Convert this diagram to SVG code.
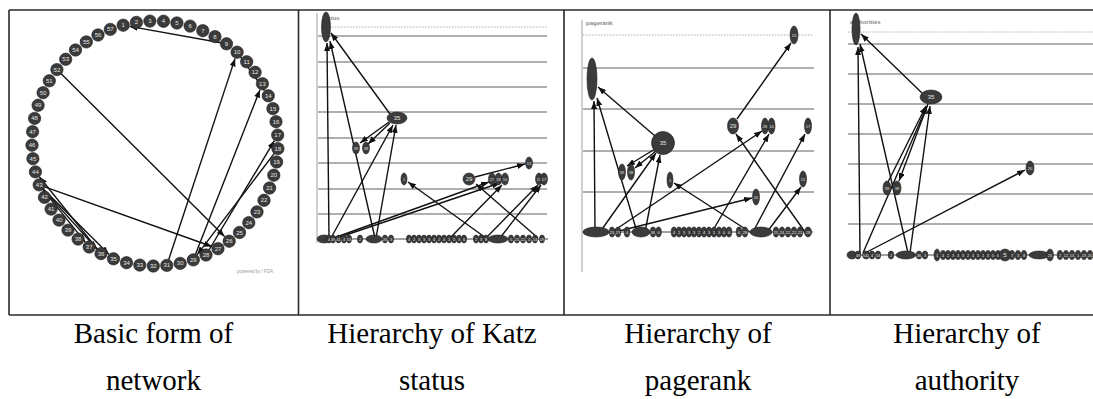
<svg xmlns="http://www.w3.org/2000/svg" width="1093" height="399" viewBox="0 0 1093 399">
<defs>
<marker id="ah" viewBox="0 0 8 6" refX="8" refY="3" markerWidth="8" markerHeight="6" markerUnits="userSpaceOnUse" orient="auto"><path d="M0,0 L8,3 L0,6 z" fill="#111"/></marker>
</defs>
<style>
.b{stroke:#2a2a2a;stroke-width:1.6;fill:none}
.g{stroke:#959595;stroke-width:1.3}
.d{stroke:#aaa;stroke-width:1;stroke-dasharray:1.5 1.5}
.ax{stroke:#b0b0b0;stroke-width:1.2}
.e{stroke:#111;stroke-width:1.4;fill:none;marker-end:url(#ah)}
.n{fill:#3b3b3b;stroke:#1e1e1e;stroke-width:0.6}
.t{font-family:"Liberation Sans",Arial,sans-serif;font-size:6px;fill:#e6e6e6;text-anchor:middle;dominant-baseline:central}
.s{font-family:"Liberation Sans",Arial,sans-serif;font-size:4px;fill:#e6e6e6;text-anchor:middle;dominant-baseline:central}
.row{stroke:#444;stroke-width:1}
.lab{font-family:"Liberation Sans",Arial,sans-serif;font-size:6px;fill:#8a8a8a;font-weight:bold}
.cap{font-family:"Liberation Serif","Times New Roman",serif;font-size:29px;fill:#000;text-anchor:middle}
</style>
<rect width="1093" height="399" fill="#fff"/>

<g id="table">
<line class="b" x1="9" y1="10" x2="1093" y2="10"/>
<line class="b" x1="9" y1="315" x2="1093" y2="315"/>
<line class="b" x1="9" y1="10" x2="9" y2="315"/>
<line class="b" x1="298.5" y1="10" x2="298.5" y2="315"/>
<line class="b" x1="564" y1="10" x2="564" y2="315"/>
<line class="b" x1="830" y1="10" x2="830" y2="315"/>
</g>

<!-- Panel 1 -->
<g id="p1-edges">
<line class="e" x1="226.5" y1="43.8" x2="129.6" y2="26.4"/>
<line class="e" x1="237.1" y1="52.2" x2="264.5" y2="90.5"/>
<line class="e" x1="166.8" y1="265.4" x2="235.1" y2="58.4"/>
<line class="e" x1="193.3" y1="259.9" x2="260.0" y2="89.7"/>
<line class="e" x1="56.9" y1="69.6" x2="224.6" y2="236.6"/>
<line class="e" x1="39.2" y1="184.9" x2="211.9" y2="246.5"/>
<line class="e" x1="277.9" y1="148.6" x2="197.2" y2="254.7"/>
<line class="e" x1="206.0" y1="255.0" x2="274.4" y2="140.7"/>
<line class="e" x1="101.0" y1="253.6" x2="39.5" y2="177.0"/>
<line class="e" x1="39.2" y1="184.9" x2="96.7" y2="248.8"/>
<line class="e" x1="39.2" y1="184.9" x2="85.1" y2="241.9"/>
<line class="e" x1="39.2" y1="184.9" x2="108.9" y2="254.2"/>
</g>
<g id="p1-nodes">
<g id="a1"><circle class="n" cx="123.2" cy="25.2" r="6.2"/><text class="t" x="123.2" y="25.2">1</text></g>
<g id="a2"><circle class="n" cx="136.4" cy="22.4" r="6.2"/><text class="t" x="136.4" y="22.4">2</text></g>
<g id="a3"><circle class="n" cx="149.9" cy="21.1" r="6.2"/><text class="t" x="149.9" y="21.1">3</text></g>
<g id="a4"><circle class="n" cx="163.5" cy="21.3" r="6.2"/><text class="t" x="163.5" y="21.3">4</text></g>
<g id="a5"><circle class="n" cx="176.9" cy="23.0" r="6.2"/><text class="t" x="176.9" y="23.0">5</text></g>
<g id="a6"><circle class="n" cx="190.1" cy="26.1" r="6.2"/><text class="t" x="190.1" y="26.1">6</text></g>
<g id="a7"><circle class="n" cx="202.8" cy="30.7" r="6.2"/><text class="t" x="202.8" y="30.7">7</text></g>
<g id="a8"><circle class="n" cx="215.0" cy="36.6" r="6.2"/><text class="t" x="215.0" y="36.6">8</text></g>
<g id="a9"><circle class="n" cx="226.5" cy="43.8" r="6.2"/><text class="t" x="226.5" y="43.8">9</text></g>
<g id="a10"><circle class="n" cx="237.1" cy="52.2" r="6.2"/><text class="t" x="237.1" y="52.2">10</text></g>
<g id="a11"><circle class="n" cx="246.7" cy="61.8" r="6.2"/><text class="t" x="246.7" y="61.8">11</text></g>
<g id="a12"><circle class="n" cx="255.1" cy="72.3" r="6.2"/><text class="t" x="255.1" y="72.3">12</text></g>
<g id="a13"><circle class="n" cx="262.4" cy="83.7" r="6.2"/><text class="t" x="262.4" y="83.7">13</text></g>
<g id="a14"><circle class="n" cx="268.3" cy="95.8" r="6.2"/><text class="t" x="268.3" y="95.8">14</text></g>
<g id="a15"><circle class="n" cx="272.9" cy="108.6" r="6.2"/><text class="t" x="272.9" y="108.6">15</text></g>
<g id="a16"><circle class="n" cx="276.0" cy="121.7" r="6.2"/><text class="t" x="276.0" y="121.7">16</text></g>
<g id="a17"><circle class="n" cx="277.7" cy="135.1" r="6.2"/><text class="t" x="277.7" y="135.1">17</text></g>
<g id="a18"><circle class="n" cx="277.9" cy="148.6" r="6.2"/><text class="t" x="277.9" y="148.6">18</text></g>
<g id="a19"><circle class="n" cx="276.6" cy="162.0" r="6.2"/><text class="t" x="276.6" y="162.0">19</text></g>
<g id="a20"><circle class="n" cx="273.8" cy="175.2" r="6.2"/><text class="t" x="273.8" y="175.2">20</text></g>
<g id="a21"><circle class="n" cx="269.6" cy="188.0" r="6.2"/><text class="t" x="269.6" y="188.0">21</text></g>
<g id="a22"><circle class="n" cx="264.0" cy="200.3" r="6.2"/><text class="t" x="264.0" y="200.3">22</text></g>
<g id="a23"><circle class="n" cx="257.0" cy="211.9" r="6.2"/><text class="t" x="257.0" y="211.9">23</text></g>
<g id="a24"><circle class="n" cx="248.8" cy="222.7" r="6.2"/><text class="t" x="248.8" y="222.7">24</text></g>
<g id="a25"><circle class="n" cx="239.5" cy="232.5" r="6.2"/><text class="t" x="239.5" y="232.5">25</text></g>
<g id="a26"><circle class="n" cx="229.2" cy="241.2" r="6.2"/><text class="t" x="229.2" y="241.2">26</text></g>
<g id="a27"><circle class="n" cx="218.0" cy="248.7" r="6.2"/><text class="t" x="218.0" y="248.7">27</text></g>
<g id="a28"><circle class="n" cx="206.0" cy="255.0" r="6.2"/><text class="t" x="206.0" y="255.0">28</text></g>
<g id="a29"><circle class="n" cx="193.3" cy="259.9" r="6.2"/><text class="t" x="193.3" y="259.9">29</text></g>
<g id="a30"><circle class="n" cx="180.2" cy="263.4" r="6.2"/><text class="t" x="180.2" y="263.4">30</text></g>
<g id="a31"><circle class="n" cx="166.8" cy="265.4" r="6.2"/><text class="t" x="166.8" y="265.4">31</text></g>
<g id="a32"><circle class="n" cx="153.3" cy="266.0" r="6.2"/><text class="t" x="153.3" y="266.0">32</text></g>
<g id="a33"><circle class="n" cx="139.8" cy="265.1" r="6.2"/><text class="t" x="139.8" y="265.1">33</text></g>
<g id="a34"><circle class="n" cx="126.5" cy="262.7" r="6.2"/><text class="t" x="126.5" y="262.7">34</text></g>
<g id="a35"><circle class="n" cx="113.5" cy="258.8" r="6.2"/><text class="t" x="113.5" y="258.8">35</text></g>
<g id="a36"><circle class="n" cx="101.0" cy="253.6" r="6.2"/><text class="t" x="101.0" y="253.6">36</text></g>
<g id="a37"><circle class="n" cx="89.2" cy="247.0" r="6.2"/><text class="t" x="89.2" y="247.0">37</text></g>
<g id="a38"><circle class="n" cx="78.1" cy="239.1" r="6.2"/><text class="t" x="78.1" y="239.1">38</text></g>
<g id="a39"><circle class="n" cx="68.0" cy="230.1" r="6.2"/><text class="t" x="68.0" y="230.1">39</text></g>
<g id="a40"><circle class="n" cx="59.0" cy="220.1" r="6.2"/><text class="t" x="59.0" y="220.1">40</text></g>
<g id="a41"><circle class="n" cx="51.1" cy="209.1" r="6.2"/><text class="t" x="51.1" y="209.1">41</text></g>
<g id="a42"><circle class="n" cx="44.5" cy="197.3" r="6.2"/><text class="t" x="44.5" y="197.3">42</text></g>
<g id="a43"><circle class="n" cx="39.2" cy="184.9" r="6.2"/><text class="t" x="39.2" y="184.9">43</text></g>
<g id="a44"><circle class="n" cx="35.4" cy="171.9" r="6.2"/><text class="t" x="35.4" y="171.9">44</text></g>
<g id="a45"><circle class="n" cx="32.9" cy="158.7" r="6.2"/><text class="t" x="32.9" y="158.7">45</text></g>
<g id="a46"><circle class="n" cx="32.0" cy="145.2" r="6.2"/><text class="t" x="32.0" y="145.2">46</text></g>
<g id="a47"><circle class="n" cx="32.6" cy="131.7" r="6.2"/><text class="t" x="32.6" y="131.7">47</text></g>
<g id="a48"><circle class="n" cx="34.6" cy="118.4" r="6.2"/><text class="t" x="34.6" y="118.4">48</text></g>
<g id="a49"><circle class="n" cx="38.1" cy="105.3" r="6.2"/><text class="t" x="38.1" y="105.3">49</text></g>
<g id="a50"><circle class="n" cx="43.1" cy="92.7" r="6.2"/><text class="t" x="43.1" y="92.7">50</text></g>
<g id="a51"><circle class="n" cx="49.3" cy="80.8" r="6.2"/><text class="t" x="49.3" y="80.8">51</text></g>
<g id="a52"><circle class="n" cx="56.9" cy="69.6" r="6.2"/><text class="t" x="56.9" y="69.6">52</text></g>
<g id="a53"><circle class="n" cx="65.7" cy="59.3" r="6.2"/><text class="t" x="65.7" y="59.3">53</text></g>
<g id="a54"><circle class="n" cx="75.5" cy="50.0" r="6.2"/><text class="t" x="75.5" y="50.0">54</text></g>
<g id="a55"><circle class="n" cx="86.3" cy="41.9" r="6.2"/><text class="t" x="86.3" y="41.9">55</text></g>
<g id="a56"><circle class="n" cx="98.0" cy="35.0" r="6.2"/><text class="t" x="98.0" y="35.0">56</text></g>
<g id="a57"><circle class="n" cx="110.3" cy="29.4" r="6.2"/><text class="t" x="110.3" y="29.4">57</text></g>
</g>
<text x="237" y="273" font-family="Liberation Sans, Arial, sans-serif" font-size="4.5" fill="#999">powered by I FDA</text>

<!-- Panel 2 : Katz status -->
<g id="p2-grid">
<line class="ax" x1="317" y1="13" x2="317" y2="243"/>
<line class="d" x1="323" y1="27" x2="547" y2="27"/>
<line class="g" x1="318" y1="36" x2="547" y2="36"/>
<line class="g" x1="318" y1="62" x2="547" y2="62"/>
<line class="g" x1="318" y1="87" x2="547" y2="87"/>
<line class="g" x1="318" y1="112" x2="547" y2="112"/>
<line class="g" x1="318" y1="138" x2="547" y2="138"/>
<line class="g" x1="318" y1="163" x2="547" y2="163"/>
<line class="g" x1="318" y1="189" x2="547" y2="189"/>
<line class="g" x1="318" y1="214" x2="547" y2="214"/>
<text class="lab" x="322" y="20" font-size="5.5">status</text>
</g>
<g id="p2-edges">
<line class="e" x1="329" y1="239" x2="327" y2="43"/>
<line class="e" x1="375" y1="238" x2="330" y2="41"/>
<line class="e" x1="390" y1="114" x2="331" y2="33"/>
<line class="e" x1="389" y1="122" x2="360" y2="143"/>
<line class="e" x1="390" y1="123" x2="368" y2="144"/>
<line class="e" x1="331" y1="238" x2="393" y2="125"/>
<line class="e" x1="376" y1="238" x2="396" y2="125"/>
<line class="e" x1="331" y1="239" x2="489" y2="182"/>
<line class="e" x1="334" y1="239" x2="500" y2="183"/>
<line class="e" x1="475" y1="177" x2="525" y2="164"/>
<line class="e" x1="486" y1="238" x2="408" y2="182"/>
<line class="e" x1="450" y1="238" x2="502" y2="185"/>
<line class="e" x1="538" y1="238" x2="476" y2="184"/>
<line class="e" x1="486" y1="238" x2="538" y2="185"/>
<line class="e" x1="500" y1="238" x2="541" y2="185"/>
</g>
<g id="p2-nodes">
<g id="b-top"><ellipse class="n" cx="326" cy="27" rx="4.5" ry="15"/></g>
<g id="b35"><ellipse class="n" cx="397" cy="118" rx="10" ry="6"/><text class="t" x="397" y="118">35</text></g>
<g id="b39"><ellipse class="n" cx="356" cy="148" rx="3.5" ry="6"/><text class="s" x="356" y="148">39</text></g>
<g id="b38"><ellipse class="n" cx="366" cy="148" rx="3.5" ry="6"/><text class="s" x="366" y="148">38</text></g>
<g id="b1"><ellipse class="n" cx="404" cy="179" rx="3" ry="6"/><text class="s" x="404" y="179">1</text></g>
<g id="b29"><ellipse class="n" cx="469" cy="179" rx="6" ry="6"/><text class="t" x="469" y="179">29</text></g>
<g id="b27"><ellipse class="n" cx="492" cy="179" rx="3.5" ry="6"/><text class="s" x="492" y="179">27</text></g>
<g id="b28"><ellipse class="n" cx="498.5" cy="179" rx="3.5" ry="6"/><text class="s" x="498.5" y="179">28</text></g>
<g id="b10"><ellipse class="n" cx="505" cy="179" rx="3.5" ry="6"/><text class="s" x="505" y="179">10</text></g>
<g id="b13"><ellipse class="n" cx="529" cy="163" rx="3.5" ry="6"/><text class="s" x="529" y="163">13</text></g>
<g id="b15"><ellipse class="n" cx="539" cy="179" rx="3.5" ry="6"/><text class="s" x="539" y="179">15</text></g>
<g id="b17"><ellipse class="n" cx="544" cy="179" rx="3.5" ry="6"/><text class="s" x="544" y="179">17</text></g>
<g id="b-row">
<line class="row" x1="318" y1="239" x2="548" y2="239"/>
<ellipse class="n" cx="324" cy="239" rx="7" ry="4"/>
<ellipse class="n" cx="329" cy="239" rx="2.6" ry="4"/><text class="s" x="329" y="239">4</text>
<ellipse class="n" cx="333" cy="239" rx="2.6" ry="4"/><text class="s" x="333" y="239">49</text>
<ellipse class="n" cx="338.5" cy="239" rx="2.6" ry="4"/><text class="s" x="338.5" y="239">41</text>
<ellipse class="n" cx="344" cy="239" rx="2.6" ry="4"/><text class="s" x="344" y="239">4</text>
<ellipse class="n" cx="349" cy="239" rx="2.6" ry="4"/><text class="s" x="349" y="239">53</text>
<ellipse class="n" cx="360" cy="239" rx="2.6" ry="4"/><text class="s" x="360" y="239">2</text>
<ellipse class="n" cx="374" cy="239" rx="8" ry="4"/>
<ellipse class="n" cx="385" cy="239" rx="2.6" ry="4"/><text class="s" x="385" y="239">26</text>
<ellipse class="n" cx="391" cy="239" rx="2.6" ry="4"/><text class="s" x="391" y="239">3</text>
<ellipse class="n" cx="409" cy="239" rx="2.6" ry="4"/><text class="s" x="409" y="239">4</text>
<ellipse class="n" cx="414" cy="239" rx="2.6" ry="4"/><text class="s" x="414" y="239">2</text>
<ellipse class="n" cx="419" cy="239" rx="2.6" ry="4"/><text class="s" x="419" y="239">3</text>
<ellipse class="n" cx="424" cy="239" rx="2.6" ry="4"/><text class="s" x="424" y="239">3</text>
<ellipse class="n" cx="429" cy="239" rx="2.6" ry="4"/><text class="s" x="429" y="239">3</text>
<ellipse class="n" cx="434" cy="239" rx="2.6" ry="4"/><text class="s" x="434" y="239">4</text>
<ellipse class="n" cx="439" cy="239" rx="2.6" ry="4"/><text class="s" x="439" y="239">2</text>
<ellipse class="n" cx="444" cy="239" rx="2.6" ry="4"/><text class="s" x="444" y="239">4</text>
<ellipse class="n" cx="449" cy="239" rx="2.6" ry="4"/><text class="s" x="449" y="239">1</text>
<ellipse class="n" cx="454" cy="239" rx="2.6" ry="4"/><text class="s" x="454" y="239">5</text>
<ellipse class="n" cx="459" cy="239" rx="2.6" ry="4"/><text class="s" x="459" y="239">3</text>
<ellipse class="n" cx="464" cy="239" rx="2.6" ry="4"/><text class="s" x="464" y="239">6</text>
<ellipse class="n" cx="476" cy="239" rx="2.6" ry="4"/><text class="s" x="476" y="239">2</text>
<ellipse class="n" cx="481" cy="239" rx="2.6" ry="4"/><text class="s" x="481" y="239">3</text>
<ellipse class="n" cx="486" cy="239" rx="2.6" ry="4"/><text class="s" x="486" y="239">8</text>
<ellipse class="n" cx="498" cy="239" rx="10" ry="4"/>
<ellipse class="n" cx="511" cy="239" rx="2.6" ry="4"/><text class="s" x="511" y="239">5</text>
<ellipse class="n" cx="517" cy="239" rx="2.6" ry="4"/><text class="s" x="517" y="239">21</text>
<ellipse class="n" cx="523" cy="239" rx="2.6" ry="4"/><text class="s" x="523" y="239">12</text>
<ellipse class="n" cx="529" cy="239" rx="2.6" ry="4"/><text class="s" x="529" y="239">4</text>
<ellipse class="n" cx="535" cy="239" rx="2.6" ry="4"/><text class="s" x="535" y="239">14</text>
<ellipse class="n" cx="542" cy="239" rx="2.6" ry="4"/><text class="s" x="542" y="239">19</text>
</g>
</g>

<!-- Panel 3 : pagerank -->
<g id="p3-grid">
<line class="ax" x1="582" y1="20" x2="582" y2="272"/>
<line class="d" x1="583" y1="35" x2="814" y2="35"/>
<line class="g" x1="583" y1="68" x2="814" y2="68"/>
<line class="g" x1="583" y1="109" x2="814" y2="109"/>
<line class="g" x1="583" y1="151" x2="814" y2="151"/>
<line class="g" x1="583" y1="192" x2="814" y2="192"/>
<text class="lab" x="586" y="25" font-size="6.5">pagerank</text>
</g>
<g id="p3-edges">
<line class="e" x1="595" y1="232" x2="594" y2="101"/>
<line class="e" x1="655" y1="136" x2="598" y2="87"/>
<line class="e" x1="637" y1="232" x2="597" y2="98"/>
<line class="e" x1="655" y1="149" x2="627" y2="166"/>
<line class="e" x1="656" y1="151" x2="635" y2="168"/>
<line class="e" x1="600" y1="232" x2="656" y2="153"/>
<line class="e" x1="645" y1="232" x2="660" y2="155"/>
<line class="e" x1="612" y1="232" x2="762" y2="131"/>
<line class="e" x1="615" y1="232" x2="752" y2="198"/>
<line class="e" x1="712" y1="232" x2="769" y2="134"/>
<line class="e" x1="737" y1="119" x2="791" y2="43"/>
<line class="e" x1="805" y1="232" x2="736" y2="134"/>
<line class="e" x1="750" y1="232" x2="674" y2="183"/>
<line class="e" x1="753" y1="232" x2="805" y2="134"/>
<line class="e" x1="767" y1="232" x2="801" y2="187"/>
</g>
<g id="p3-nodes">
<g id="c-top"><ellipse class="n" cx="592" cy="79" rx="5" ry="21"/></g>
<g id="c13"><ellipse class="n" cx="794" cy="35" rx="4" ry="9"/><text class="s" x="794" y="35">13</text></g>
<g id="c29"><ellipse class="n" cx="733" cy="126" rx="5.5" ry="8"/><text class="t" x="733" y="126">29</text></g>
<g id="c28"><ellipse class="n" cx="765" cy="126" rx="3.5" ry="8"/><text class="s" x="765" y="126">28</text></g>
<g id="c10"><ellipse class="n" cx="771.5" cy="126" rx="3.5" ry="8"/><text class="s" x="771.5" y="126">10</text></g>
<g id="c17"><ellipse class="n" cx="808" cy="126" rx="3.5" ry="8"/><text class="s" x="808" y="126">17</text></g>
<g id="c35"><circle class="n" cx="663" cy="143" r="11.5"/><text class="t" x="663" y="143">35</text></g>
<g id="c39"><ellipse class="n" cx="622" cy="172" rx="3.5" ry="8"/><text class="s" x="622" y="172">39</text></g>
<g id="c38"><ellipse class="n" cx="631" cy="172" rx="3.5" ry="8"/><text class="s" x="631" y="172">38</text></g>
<g id="c1"><ellipse class="n" cx="670" cy="180" rx="3" ry="8"/><text class="s" x="670" y="180">1</text></g>
<g id="c15"><ellipse class="n" cx="803" cy="179" rx="3.5" ry="8"/><text class="s" x="803" y="179">15</text></g>
<g id="c20"><ellipse class="n" cx="756" cy="197" rx="3.5" ry="8"/><text class="s" x="756" y="197">20</text></g>
<g id="c-row">
<line class="row" x1="583" y1="232" x2="813" y2="232"/>
<ellipse class="n" cx="596" cy="232" rx="13" ry="5"/>
<ellipse class="n" cx="612" cy="232" rx="2.8" ry="5"/><text class="s" x="612" y="232">23</text>
<ellipse class="n" cx="618" cy="232" rx="2.8" ry="5"/><text class="s" x="618" y="232">27</text>
<ellipse class="n" cx="627" cy="232" rx="2.8" ry="5"/><text class="s" x="627" y="232">4</text>
<ellipse class="n" cx="641" cy="232" rx="9" ry="5"/>
<ellipse class="n" cx="653" cy="232" rx="2.8" ry="5"/><text class="s" x="653" y="232">36</text>
<ellipse class="n" cx="658.5" cy="232" rx="2.8" ry="5"/><text class="s" x="658.5" y="232">0</text>
<ellipse class="n" cx="674" cy="232" rx="2.8" ry="5"/><text class="s" x="674" y="232">4</text>
<ellipse class="n" cx="679" cy="232" rx="2.8" ry="5"/><text class="s" x="679" y="232">2</text>
<ellipse class="n" cx="684" cy="232" rx="2.8" ry="5"/><text class="s" x="684" y="232">3</text>
<ellipse class="n" cx="689" cy="232" rx="2.8" ry="5"/><text class="s" x="689" y="232">3</text>
<ellipse class="n" cx="694" cy="232" rx="2.8" ry="5"/><text class="s" x="694" y="232">3</text>
<ellipse class="n" cx="699" cy="232" rx="2.8" ry="5"/><text class="s" x="699" y="232">2</text>
<ellipse class="n" cx="704" cy="232" rx="2.8" ry="5"/><text class="s" x="704" y="232">4</text>
<ellipse class="n" cx="709" cy="232" rx="2.8" ry="5"/><text class="s" x="709" y="232">3</text>
<ellipse class="n" cx="714" cy="232" rx="2.8" ry="5"/><text class="s" x="714" y="232">1</text>
<ellipse class="n" cx="719" cy="232" rx="2.8" ry="5"/><text class="s" x="719" y="232">3</text>
<ellipse class="n" cx="724" cy="232" rx="2.8" ry="5"/><text class="s" x="724" y="232">0</text>
<ellipse class="n" cx="729" cy="232" rx="2.8" ry="5"/><text class="s" x="729" y="232">6</text>
<ellipse class="n" cx="739" cy="232" rx="2.8" ry="5"/><text class="s" x="739" y="232">6</text>
<ellipse class="n" cx="745" cy="232" rx="2.8" ry="5"/><text class="s" x="745" y="232">28</text>
<ellipse class="n" cx="761" cy="232" rx="11" ry="5"/>
<ellipse class="n" cx="776" cy="232" rx="2.8" ry="5"/><text class="s" x="776" y="232">25</text>
<ellipse class="n" cx="782" cy="232" rx="2.8" ry="5"/><text class="s" x="782" y="232">24</text>
<ellipse class="n" cx="788" cy="232" rx="2.8" ry="5"/><text class="s" x="788" y="232">22</text>
<ellipse class="n" cx="794" cy="232" rx="2.8" ry="5"/><text class="s" x="794" y="232">22</text>
<ellipse class="n" cx="800" cy="232" rx="2.8" ry="5"/><text class="s" x="800" y="232">21</text>
<ellipse class="n" cx="808" cy="232" rx="3.5" ry="5"/><text class="s" x="808" y="232">18</text>
</g>
</g>

<!-- Panel 4 : authorities -->
<g id="p4-grid">
<line class="d" x1="848" y1="32" x2="1093" y2="32"/>
<line class="g" x1="848" y1="44" x2="1093" y2="44"/>
<line class="g" x1="848" y1="74" x2="1093" y2="74"/>
<line class="g" x1="848" y1="104" x2="1093" y2="104"/>
<line class="g" x1="848" y1="134" x2="1093" y2="134"/>
<line class="g" x1="848" y1="164" x2="1093" y2="164"/>
<line class="g" x1="848" y1="194" x2="1093" y2="194"/>
<line class="g" x1="848" y1="224" x2="1093" y2="224"/>
<text class="lab" x="850" y="24" font-size="5.5">authorities</text>
</g>
<g id="p4-edges">
<line class="e" x1="860" y1="255" x2="858" y2="47"/>
<line class="e" x1="908" y1="253" x2="860" y2="44"/>
<line class="e" x1="922" y1="93" x2="861" y2="34"/>
<line class="e" x1="863" y1="253" x2="927" y2="106"/>
<line class="e" x1="910" y1="253" x2="930" y2="106"/>
<line class="e" x1="888" y1="182" x2="926" y2="106" stroke-width="2.2"/>
<line class="e" x1="928" y1="104" x2="899" y2="181"/>
<line class="e" x1="865" y1="253" x2="1025" y2="170"/>
</g>
<g id="p4-nodes">
<g id="d-top"><ellipse class="n" cx="856" cy="29" rx="4" ry="16"/></g>
<g id="d35"><ellipse class="n" cx="931" cy="97" rx="11" ry="7"/><text class="t" x="931" y="97">35</text></g>
<g id="d39"><ellipse class="n" cx="887" cy="188" rx="4" ry="7"/><text class="s" x="887" y="188">39</text></g>
<g id="d38"><ellipse class="n" cx="897" cy="188" rx="4" ry="7"/><text class="s" x="897" y="188">38</text></g>
<g id="d20"><ellipse class="n" cx="1030" cy="168" rx="4" ry="7"/><text class="s" x="1030" y="168">20</text></g>
<g id="d-row">
<line class="row" x1="848" y1="255" x2="1092" y2="255"/>
<ellipse class="n" cx="852" cy="255" rx="5" ry="4"/>
<ellipse class="n" cx="858" cy="255" rx="2.8" ry="4"/><text class="s" x="858" y="255">49</text>
<ellipse class="n" cx="866" cy="255" rx="3.5" ry="4"/><text class="s" x="866" y="255">541</text>
<ellipse class="n" cx="872" cy="255" rx="2.8" ry="4"/><text class="s" x="872" y="255">4</text>
<ellipse class="n" cx="878" cy="255" rx="2.8" ry="4"/><text class="s" x="878" y="255">53</text>
<ellipse class="n" cx="891" cy="255" rx="2.8" ry="4"/><text class="s" x="891" y="255">2</text>
<ellipse class="n" cx="906" cy="255" rx="10" ry="4"/>
<ellipse class="n" cx="919" cy="255" rx="2.8" ry="4"/><text class="s" x="919" y="255">36</text>
<ellipse class="n" cx="925" cy="255" rx="2.8" ry="4"/><text class="s" x="925" y="255">3</text>
<ellipse class="n" cx="937" cy="255" rx="3" ry="6"/><text class="s" x="937" y="255">1</text>
<ellipse class="n" cx="943" cy="255" rx="2.8" ry="4.5"/><text class="s" x="943" y="255">4</text>
<ellipse class="n" cx="948" cy="255" rx="2.8" ry="4.5"/><text class="s" x="948" y="255">2</text>
<ellipse class="n" cx="953" cy="255" rx="2.8" ry="4.5"/><text class="s" x="953" y="255">3</text>
<ellipse class="n" cx="958" cy="255" rx="2.8" ry="4.5"/><text class="s" x="958" y="255">3</text>
<ellipse class="n" cx="963" cy="255" rx="2.8" ry="4.5"/><text class="s" x="963" y="255">3</text>
<ellipse class="n" cx="968" cy="255" rx="2.8" ry="4.5"/><text class="s" x="968" y="255">2</text>
<ellipse class="n" cx="973" cy="255" rx="2.8" ry="4.5"/><text class="s" x="973" y="255">4</text>
<ellipse class="n" cx="978" cy="255" rx="2.8" ry="4.5"/><text class="s" x="978" y="255">3</text>
<ellipse class="n" cx="983" cy="255" rx="2.8" ry="4.5"/><text class="s" x="983" y="255">1</text>
<ellipse class="n" cx="988" cy="255" rx="2.8" ry="4.5"/><text class="s" x="988" y="255">3</text>
<ellipse class="n" cx="993" cy="255" rx="2.8" ry="4.5"/><text class="s" x="993" y="255">0</text>
<ellipse class="n" cx="998" cy="255" rx="2.8" ry="4.5"/><text class="s" x="998" y="255">6</text>
<circle class="n" cx="1005" cy="255" r="6"/><text class="t" x="1005" y="255">5</text>
<ellipse class="n" cx="1012" cy="255" rx="2.8" ry="4.5"/><text class="s" x="1012" y="255">7</text>
<ellipse class="n" cx="1018" cy="255" rx="2.8" ry="4.5"/><text class="s" x="1018" y="255">3</text>
<ellipse class="n" cx="1024" cy="255" rx="2.8" ry="4.5"/><text class="s" x="1024" y="255">8</text>
<ellipse class="n" cx="1039" cy="255" rx="10" ry="4"/>
<ellipse class="n" cx="1050" cy="255" rx="3.5" ry="6"/><text class="s" x="1050" y="255">25</text>
<ellipse class="n" cx="1060" cy="255" rx="2.8" ry="4.5"/><text class="s" x="1060" y="255">2</text>
<ellipse class="n" cx="1066" cy="255" rx="2.8" ry="4.5"/><text class="s" x="1066" y="255">12</text>
<ellipse class="n" cx="1072" cy="255" rx="2.8" ry="4.5"/><text class="s" x="1072" y="255">13</text>
<ellipse class="n" cx="1078" cy="255" rx="2.8" ry="4.5"/><text class="s" x="1078" y="255">1</text>
<ellipse class="n" cx="1084" cy="255" rx="2.8" ry="4.5"/><text class="s" x="1084" y="255">19</text>
<ellipse class="n" cx="1090" cy="255" rx="2.8" ry="4.5"/><text class="s" x="1090" y="255">20</text>
</g>
</g>

<g id="captions">
<text class="cap" x="153.5" y="343">Basic form of</text>
<text class="cap" x="153.5" y="390">network</text>
<text class="cap" x="432" y="343">Hierarchy of Katz</text>
<text class="cap" x="432" y="390">status</text>
<text class="cap" x="698" y="343">Hierarchy of</text>
<text class="cap" x="698" y="390">pagerank</text>
<text class="cap" x="967" y="343">Hierarchy of</text>
<text class="cap" x="967" y="390">authority</text>
</g>
</svg>
